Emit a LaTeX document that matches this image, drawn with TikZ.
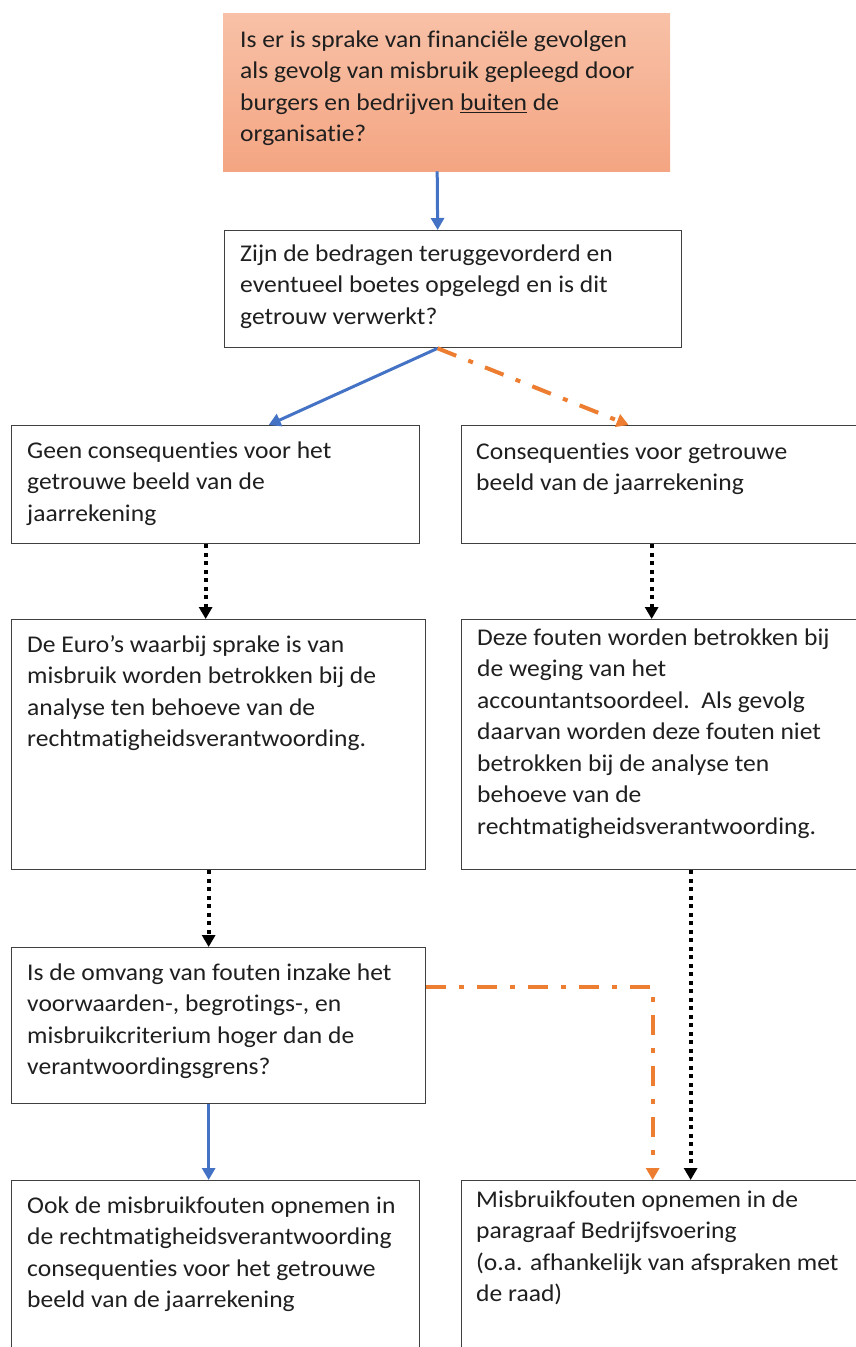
\documentclass[tikz,border=0pt]{standalone}
\usepackage{fontspec}
\setmainfont{Carlito}[FakeStretch=1.065, Ligatures=NoCommon]
\usetikzlibrary{arrows.meta}
\definecolor{lineblue}{HTML}{4472C4}
\definecolor{lineorange}{HTML}{ED7D31}
\definecolor{boxedge}{HTML}{404040}
\definecolor{peachtop}{HTML}{F8C1A7}
\definecolor{peachbot}{HTML}{F4A582}
\begin{document}
\begin{tikzpicture}[x=1pt,y=-1pt,
  box/.style={draw=boxedge, line width=1.3pt, fill=white, anchor=north west,
    inner sep=0pt, minimum width=#1},
  startbox/.style={anchor=north west, inner sep=0pt, top color=peachtop,
    bottom color=peachbot, draw=none},
  txt/.style={anchor=north west, inner sep=0pt, align=left, text=black!88,
    font=\fontsize{24}{31.5}\selectfont},
  flowblue/.style={draw=lineblue, line width=3pt,
    -{Triangle[width=13pt,length=12pt]}},
  floworange/.style={draw=lineorange, line width=4pt,
    dash pattern=on 20pt off 13pt on 5pt off 13pt,
    -{Triangle[width=13pt,length=12pt]}},
  flowdot/.style={draw=black, line width=4pt, dash pattern=on 4pt off 4.5pt,
    -{Triangle[width=13pt,length=12pt]}}
]
\useasboundingbox (0,0) rectangle (856,1347);
\clip (0,0) rectangle (856,1347);

% boxes
\node[startbox, minimum width=447pt, minimum height=158pt] (q0) at (223,13) {};
\node[box=457pt, minimum height=117pt] (b1) at (224,230) {};
\node[box=408pt, minimum height=118pt] (b2l) at (11,425) {};
\node[box=420pt, minimum height=118pt] (b2r) at (461,425) {};
\node[box=414pt, minimum height=250pt] (b3l) at (11,619) {};
\node[box=420pt, minimum height=250pt] (b3r) at (461,619) {};
\node[box=414pt, minimum height=156pt] (b4l) at (11,947) {};
\node[box=408pt, minimum height=200pt] (b5l) at (11,1180) {};
\node[box=420pt, minimum height=200pt] (b5r) at (461,1180) {};

% texts (first baseline sits 22pt below the node top because of the strut)
\node[txt] (q0t) at (240,25) {\strut Is er is sprake van financiële gevolgen\\
  als gevolg van misbruik gepleegd door\\
  burgers en bedrijven \underline{buiten} de\\
  organisatie?};
\node[txt] (b1t) at (240,239) {\strut Zijn de bedragen teruggevorderd en\\
  eventueel boetes opgelegd en is dit\\
  getrouw verwerkt?};
\node[txt] (b2lt) at (27,436) {\strut Geen consequenties voor het\\
  getrouwe beeld van de\\
  jaarrekening};
\node[txt] (b2rt) at (476,437) {\strut Consequenties voor getrouwe\\
  beeld van de jaarrekening};
\node[txt] (b3lt) at (27,630) {\strut De Euro’s waarbij sprake is van\\
  misbruik worden betrokken bij de\\
  analyse ten behoeve van de\\
  rechtmatigheidsverantwoording.};
\node[txt] (b3rt) at (477,623) {\strut Deze fouten worden betrokken bij\\
  de weging van het\\
  accountantsoordeel.\ \ Als gevolg\\
  daarvan worden deze fouten niet\\
  betrokken bij de analyse ten\\
  behoeve van de\\
  rechtmatigheidsverantwoording.};
\node[txt] (b4lt) at (27,958) {\strut Is de omvang van fouten inzake het\\
  voorwaarden-, begrotings-, en\\
  misbruikcriterium hoger dan de\\
  verantwoordingsgrens?};
\node[txt] (b5lt) at (27,1191) {\strut Ook de misbruikfouten opnemen in\\
  de rechtmatigheidsverantwoording\\
  consequenties voor het getrouwe\\
  beeld van de jaarrekening};
\node[txt] (b5rt) at (476,1185) {\strut Misbruikfouten opnemen in de\\
  paragraaf Bedrijfsvoering\\
  (o.a. afhankelijk van afspraken met\\
  de raad)};

% connectors
\draw[flowblue] ([xshift=-9.5pt]q0.south) -- ([xshift=-15.5pt]b1.north);
\draw[flowblue] ([xshift=-15.5pt]b1.south) -- ([xshift=53pt]b2l.north);
\draw[floworange] ([xshift=-15.5pt]b1.south) -- ([xshift=-43pt]b2r.north);
\draw[flowdot] ([xshift=-10pt]b2l.south) -- ([xshift=-13pt]b3l.north);
\draw[flowdot] ([xshift=-20pt]b2r.south) -- ([xshift=-20pt]b3r.north);
\draw[flowdot] ([xshift=-10pt]b3l.south) -- ([xshift=-10pt]b4l.north);
\draw[flowdot] ([xshift=19pt]b3r.south) -- ([xshift=19pt]b5r.north);
\draw[floworange] ([yshift=39pt]b4l.east) -| ([xshift=-19pt]b5r.north);
\draw[flowblue] ([xshift=-10pt]b4l.south) -- ([xshift=-7pt]b5l.north);
\end{tikzpicture}
\end{document}
